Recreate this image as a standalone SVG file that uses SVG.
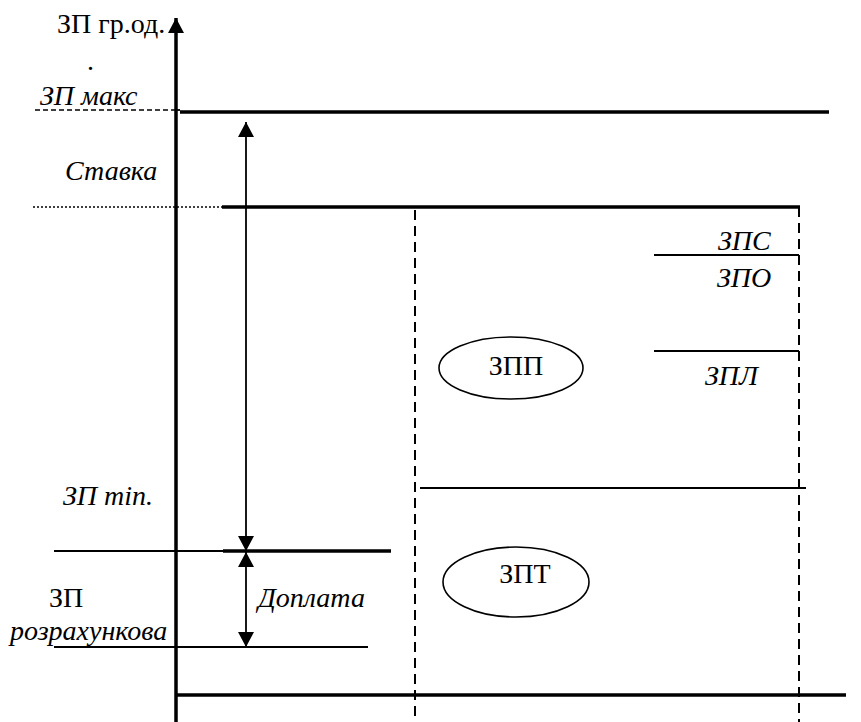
<svg xmlns="http://www.w3.org/2000/svg" width="861" height="722" viewBox="0 0 861 722">
<style>
text{font-size:28px;fill:#000}
.i{font-style:italic}
.thick{stroke:#000;stroke-width:3.5;fill:none}
.thin{stroke:#000;stroke-width:1.8;fill:none}
.dash{stroke:#000;stroke-width:2;stroke-dasharray:10,6;fill:none}
.sdash{stroke:#000;stroke-width:1.4;stroke-dasharray:5,3;fill:none}
.dot{stroke:#000;stroke-width:1.3;stroke-dasharray:2,2;fill:none}
.node{fill:#fff;stroke:#000;stroke-width:1.6}
</style>
<defs>
<marker id="ah" viewBox="0 0 15 16" refX="15" refY="8" markerWidth="15" markerHeight="16" markerUnits="userSpaceOnUse" orient="auto-start-reverse">
<path d="M0,0 L15,8 L0,16 Z" fill="#000"/>
</marker>
</defs>
<rect width="861" height="722" fill="#fff"/>
<g id="axes">
<line class="thick" x1="176" y1="722" x2="176" y2="18" marker-end="url(#ah)"/>
<line class="thick" x1="175" y1="695" x2="846" y2="695"/>
</g>
<g id="connectors">
<line class="sdash" x1="35" y1="110" x2="176" y2="110"/>
<line class="thin" x1="176" y1="110" x2="180" y2="110"/>
<line class="thick" x1="180" y1="112" x2="829" y2="112"/>
<line class="dot" x1="33" y1="207" x2="222" y2="207"/>
<line class="thick" x1="222" y1="207" x2="800" y2="207"/>
<line class="dash" x1="415" y1="210" x2="415" y2="722"/>
<line class="dash" x1="799" y1="207" x2="799" y2="722"/>
<line class="thin" x1="654" y1="255" x2="799" y2="255"/>
<line class="thin" x1="654" y1="351" x2="799" y2="351"/>
<line class="thin" x1="420" y1="488" x2="806" y2="488"/>
<line class="thin" x1="54" y1="551" x2="223" y2="551"/>
<line class="thick" x1="223" y1="551" x2="391" y2="551"/>
<line class="thin" x1="54" y1="647" x2="368" y2="647"/>
<line class="thin" x1="246" y1="122" x2="246" y2="551" marker-start="url(#ah)" marker-end="url(#ah)"/>
<line class="thin" x1="246" y1="552" x2="246" y2="647" marker-start="url(#ah)" marker-end="url(#ah)"/>
</g>
<g id="labels" font-family="'Liberation Serif', 'Times New Roman', Times, serif">
<text x="57" y="33">ЗП гр.од.</text>
<text x="87" y="70">.</text>
<text class="i" x="40" y="105">ЗП макс</text>
<text class="i" x="65" y="180">Ставка</text>
<text class="i" x="718" y="250">ЗПС</text>
<text class="i" x="717" y="287">ЗПО</text>
<text class="i" x="705" y="385">ЗПЛ</text>
<text class="i" x="63" y="505">ЗП min.</text>
<text x="49" y="607">ЗП</text>
<text class="i" x="10" y="640">розрахункова</text>
<text class="i" x="258" y="607">Доплата</text>
</g>
<g id="node-zpp" font-family="'Liberation Serif', 'Times New Roman', Times, serif">
<ellipse class="node" cx="511" cy="368" rx="72" ry="31"/>
<text x="516" y="375" text-anchor="middle">ЗПП</text>
</g>
<g id="node-zpt" font-family="'Liberation Serif', 'Times New Roman', Times, serif">
<ellipse class="node" cx="516" cy="582" rx="73" ry="35"/>
<text x="525" y="583" text-anchor="middle">ЗПТ</text>
</g>
</svg>
